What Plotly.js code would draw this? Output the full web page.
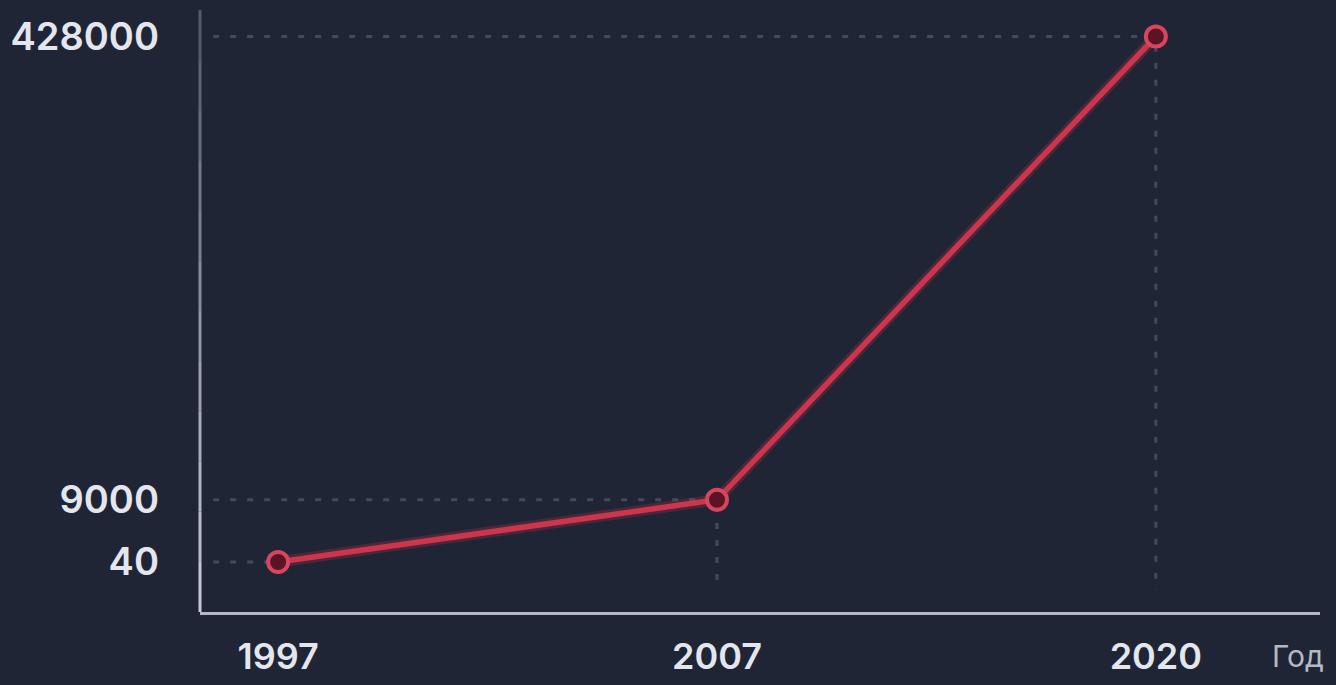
<!DOCTYPE html>
<html>
<head>
<meta charset="utf-8">
<script src="https://cdn.plot.ly/plotly-3.0.1.min.js"></script>
<style>
  html, body { margin: 0; padding: 0; background: #1f2535; }
  #chart { width: 1336px; height: 685px; }
</style>
</head>
<body>
<div id="chart"></div>
<script>
// ---- Data ----
const years = ['1997', '2007', '2020'];
const values = [40, 9000, 428000];
const tickLabels = ['40', '9000', '428000'];
const xAxisLabel = 'Год';

// ---- Display scale (the source chart uses a compressed, non-linear value axis) ----
const POWER = 0.54;
const scale = v => Math.pow(v, POWER);

const xs = years.map((_, i) => i);
const ys = values.map(scale);

const X_RANGE = [-0.178, 2.374];
const Y_RANGE = [-96.6, 1154];
const GUIDE_X0 = -0.148;   // where horizontal guides start (just right of the axis)
const GUIDE_Y0 = -50.8;    // where vertical guides end (just above the axis)

const guideColor = '#434a5c';
const traces = [];

// dotted guides from each point to the axes
values.forEach((v, i) => {
  const gx = i === 0 ? [GUIDE_X0, xs[i]] : [GUIDE_X0, xs[i], xs[i]];
  const gy = i === 0 ? [ys[i], ys[i]] : [ys[i], ys[i], GUIDE_Y0];
  traces.push({
    type: 'scatter', mode: 'lines', x: gx, y: gy,
    line: { color: guideColor, width: 3, dash: '6px,11px' },
    hoverinfo: 'skip', showlegend: false
  });
});

// soft glow under the main line
traces.push({
  type: 'scatter', mode: 'lines', x: xs, y: ys,
  line: { color: 'rgba(201,52,76,0.25)', width: 11 },
  hoverinfo: 'skip', showlegend: false
});

// main line
traces.push({
  type: 'scatter', mode: 'lines+markers',
  x: xs, y: ys, customdata: values, text: years,
  hovertemplate: '%{text}: %{customdata}<extra></extra>',
  line: { color: '#cc354d', width: 5.5 },
  marker: { size: 20, color: '#5a1426', line: { color: '#d8455e', width: 4 } },
  showlegend: false
});

// soft gradient for the vertical axis line (brighter at bottom)
const shapes = [];
const segs = 12;
for (let k = 0; k < segs; k++) {
  const t = k / segs;
  const a = 0.3 + 0.68 * t;
  shapes.push({
    type: 'line', xref: 'paper', yref: 'paper',
    x0: 0, x1: 0, y0: 1 - (k + 1) / segs, y1: 1 - k / segs,
    line: { color: `rgba(210,214,226,${a.toFixed(3)})`, width: 3 }
  });
}

const tickFont = { family: 'Inter, "Noto Sans", sans-serif', size: 38, color: '#e4e6ee', weight: 600 };
const xTickFont = Object.assign({}, tickFont, { size: 36 });

const layout = {
  width: 1336, height: 685,
  paper_bgcolor: '#1f2535', plot_bgcolor: '#1f2535',
  margin: { l: 200, r: 16, t: 10, b: 73 },
  showlegend: false,
  xaxis: {
    range: X_RANGE,
    tickvals: xs, ticktext: years,
    showgrid: false, zeroline: false,
    showline: true, linecolor: '#b4b9c4', linewidth: 3,
    ticks: '', ticklabelstandoff: 11,
    tickfont: xTickFont
  },
  yaxis: {
    range: Y_RANGE,
    tickvals: ys, ticktext: tickLabels,
    showgrid: false, zeroline: false, showline: false,
    ticks: '', ticklabelstandoff: 40,
    tickfont: tickFont
  },
  shapes: shapes,
  annotations: [{
    text: xAxisLabel, xref: 'paper', yref: 'paper',
    x: 1.0, y: 0, xanchor: 'left', yanchor: 'top',
    xshift: -50, yshift: -24, showarrow: false,
    font: { family: 'Inter, "Noto Sans", sans-serif', size: 30, color: '#b4b9c4', weight: 400 }
  }]
};

Plotly.newPlot('chart', traces, layout, { displayModeBar: false });
</script>
</body>
</html>
